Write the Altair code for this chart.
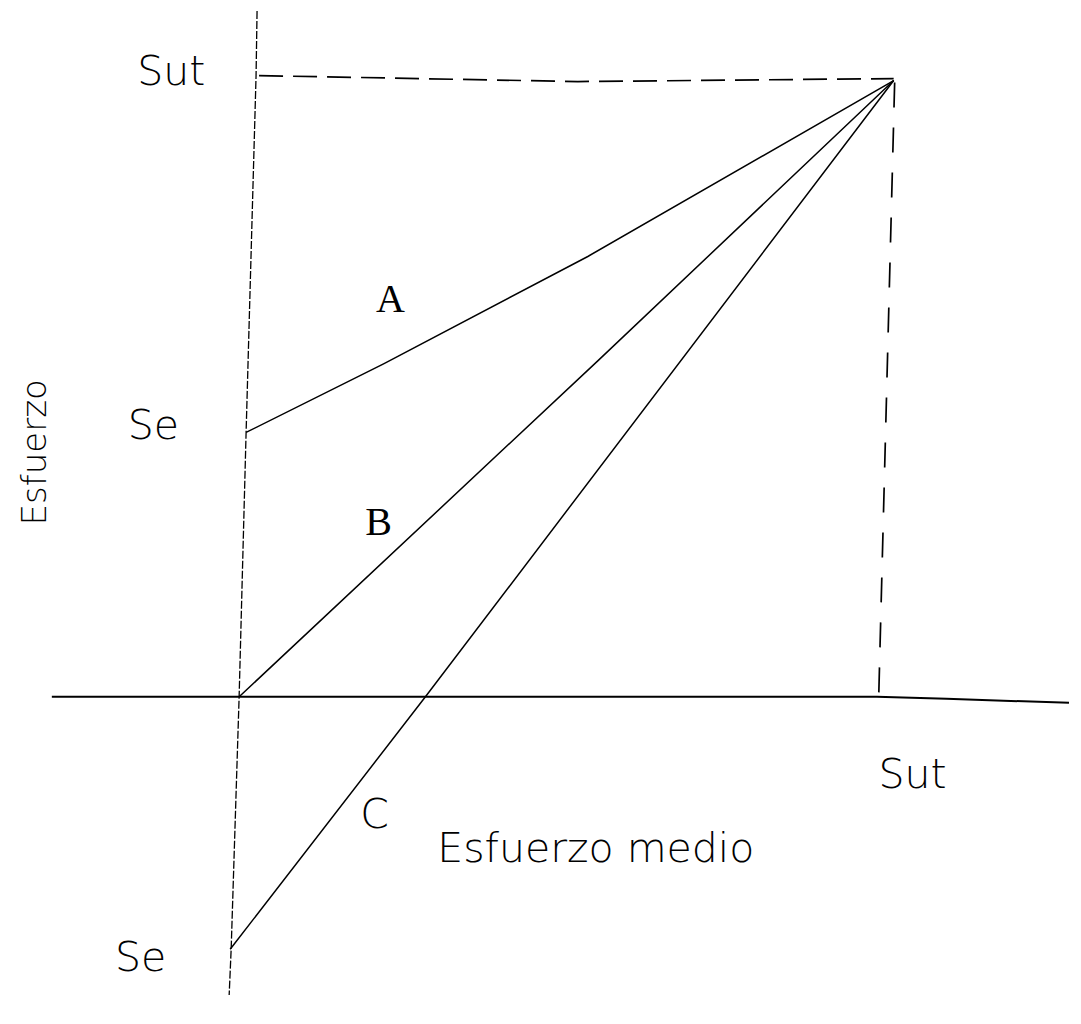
import altair as alt
import pandas as pd

# Reference-pixel coordinate system (x to the right, y downward)
axis_v_x = [258, 257, 247, 240, 232, 230]
axis_v_y = [8, 73, 432, 698, 952, 998]
axis_h_x = [52, 880, 950, 1073]
axis_h_y = [698, 698, 700, 704]
top_x = [260, 580, 897]
top_y = [73, 79, 76]
right_x = [898, 882]
right_y = [80, 698]
a_x = [247, 385, 590, 897]
a_y = [432, 363, 255, 78]
b_x = [240, 600, 897]
b_y = [698, 360, 78]
c_x = [231, 427, 897]
c_y = [952, 698, 78]

sans_labels = ["Sut", "Se", "Se", "Sut", "C", "Esfuerzo medio"]
sans_x = [172, 154, 141, 916, 376, 598]
sans_y = [70, 427, 962, 778, 818, 852]

serif_labels = ["A", "B"]
serif_x = [392, 380]
serif_y = [299, 523]

vert_labels = ["Esfuerzo"]
vert_x = [36]
vert_y = [452]


def frame(name, xs, ys):
    return pd.DataFrame({"line": name, "x": xs, "y": ys, "o": list(range(len(xs)))})


df = pd.concat([
    frame("vaxis", axis_v_x, axis_v_y),
    frame("haxis", axis_h_x, axis_h_y),
    frame("top", top_x, top_y),
    frame("right", right_x, right_y),
    frame("A", a_x, a_y),
    frame("B", b_x, b_y),
    frame("C", c_x, c_y),
], ignore_index=True)

sans_df = pd.DataFrame({"t": sans_labels, "x": sans_x, "y": sans_y})
serif_df = pd.DataFrame({"t": serif_labels, "x": serif_x, "y": serif_y})
vert_df = pd.DataFrame({"t": vert_labels, "x": vert_x, "y": vert_y})

xs = alt.Scale(domain=[8, 1073], nice=False, zero=False)
ys = alt.Scale(domain=[8, 998], nice=False, zero=False, reverse=True)
X = alt.X("x:Q", scale=xs, axis=None)
Y = alt.Y("y:Q", scale=ys, axis=None)


def line_layer(name, width, dash=None):
    kw = dict(color="black", strokeWidth=width)
    if dash:
        kw["strokeDash"] = dash
    return alt.Chart(df).transform_filter(alt.datum.line == name).mark_line(**kw).encode(
        x=X, y=Y, order="o:Q")


layers = [
    line_layer("vaxis", 1.3, [8, 2]),
    line_layer("haxis", 2),
    line_layer("top", 1.7, [24, 10]),
    line_layer("right", 1.7, [25, 20]),
    line_layer("A", 1.5),
    line_layer("B", 1.5),
    line_layer("C", 1.5),
]

text_sans = alt.Chart(sans_df).mark_text(
    font="DejaVu Sans", fontSize=41, fontWeight=200, color="black",
    align="center", baseline="middle").encode(x=X, y=Y, text="t:N")
text_serif = alt.Chart(serif_df).mark_text(
    font="Liberation Serif", fontSize=40, fontWeight="normal", color="black",
    align="center", baseline="middle").encode(x=X, y=Y, text="t:N")
text_v = alt.Chart(vert_df).mark_text(
    font="DejaVu Sans", fontSize=34, fontWeight=200, color="black",
    align="center", baseline="middle", angle=270).encode(x=X, y=Y, text="t:N")

chart = alt.layer(*layers, text_sans, text_serif, text_v).properties(
    width=1065, height=990, padding=0,
    autosize=alt.AutoSizeParams(type="fit", contains="padding"),
    background="white",
).configure_view(strokeWidth=0)

chart.save("out.html", embed_options={"renderer": "svg", "actions": False})
